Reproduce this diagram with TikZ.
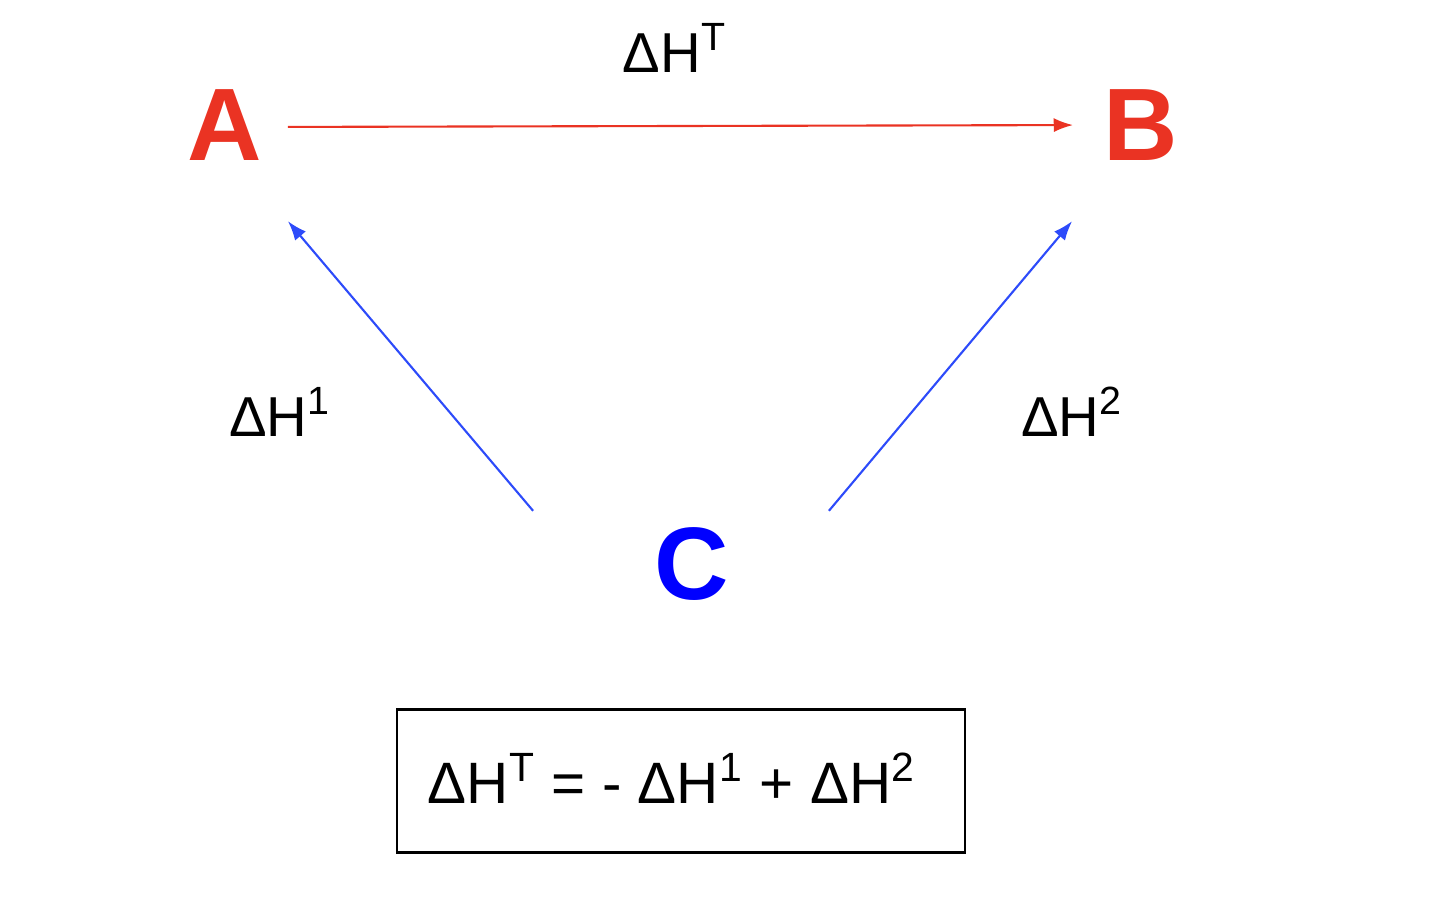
\documentclass[tikz,border=0pt]{standalone}
\usepackage{fontspec}
\setmainfont{Liberation Sans}
\usepackage{tikz}
\usetikzlibrary{arrows.meta, positioning}
\definecolor{hessred}{RGB}{234,51,35}
\definecolor{hessblue}{RGB}{0,0,255}
\definecolor{pathblue}{RGB}{45,75,250}
\newcommand{\dH}[1]{ΔH\textsuperscript{#1}}
\tikzset{
    species/.style={font=\fontsize{29.3}{32}\selectfont\bfseries, inner sep=0pt},
    enthalpy/.style={font=\fontsize{16}{19}\selectfont, inner sep=0pt},
    path/.style={line width=0.6pt, -{Latex[length=5.5pt,width=4pt]}},
}
\begin{document}
\begin{tikzpicture}[x=0.01cm, y=-0.01cm]
    \useasboundingbox (0,0) rectangle (1440,907);
    \node[species, text=hessred] (A) at (225,125) {A};% start species
    \node[species, text=hessred] (B) at (1141,125) {B};% end species
    \node[species, text=hessblue] (C) at (692,564) {C};% intermediate
    \draw[path, hessred, shorten <=0.25cm, shorten >=0.3cm]
        ([yshift=-0.02cm]A.east) -- (B.west);% direct route
    \draw[path, pathblue] ([shift={(-121,-16)}]C.north west)
        -- ([shift={(25,60)}]A.south east);% C to A
    \draw[path, pathblue] ([shift={(99,-16)}]C.north east)
        -- ([shift={(-31,60)}]B.south west);% C to B
    \node[enthalpy] (dHT) at (675,48) {\dH{T}};
    \node[enthalpy] (dH1) at (280,412) {\dH{1}};
    \node[enthalpy] (dH2) at (1072,412) {\dH{2}};
    % Hess's law summary
    \node[enthalpy, font=\fontsize{16.6}{19}\selectfont, draw, line width=0.6pt,
        minimum width=5.68cm, minimum height=1.43cm] (sum) at (681,781)
        {\raisebox{0.05cm}{\makebox[5.06cm][l]{\dH{T} = - \dH{1} + \dH{2}}}};
\end{tikzpicture}
\end{document}
